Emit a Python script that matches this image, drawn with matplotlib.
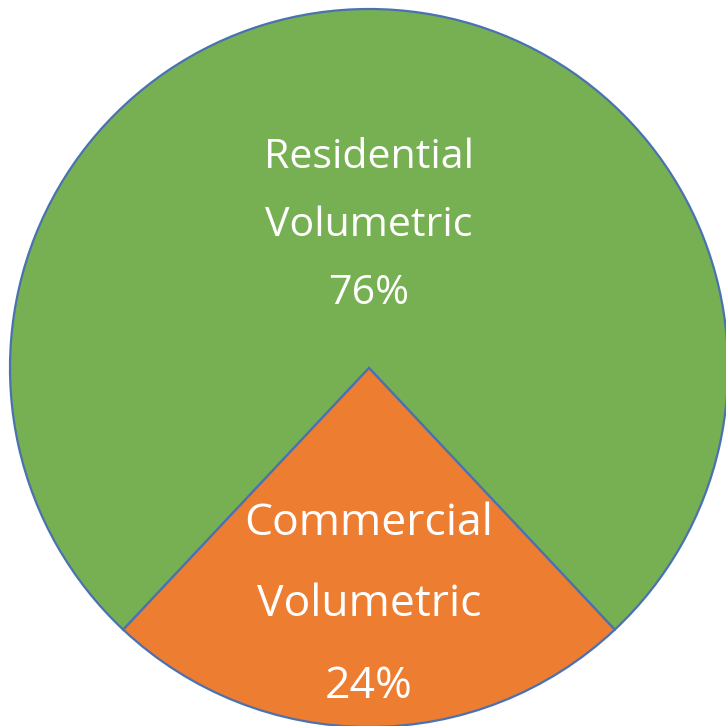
import numpy as np
import matplotlib.pyplot as plt

labels = ['Residential\nVolumetric', 'Commercial\nVolumetric']
shares = [76, 24]
colors = ['#77B052', '#ED7D31']
label_sizes = [29.6, 32]
label_lines = [1.9, 2.1]
label_dist = [0.395, 0.66]

fig = plt.figure(figsize=(7.26, 7.26), dpi=100)
ax = fig.add_axes([0, 0, 1, 1])

# commercial wedge centred straight down, residential fills the rest
start = 270 + 360 * shares[1] / 100 / 2
wedges, _ = ax.pie(shares, colors=colors, startangle=start, counterclock=True,
                   wedgeprops=dict(edgecolor='#4A72B0', linewidth=1.6))

for w, lab, pct, fs, ls, d in zip(wedges, labels, shares, label_sizes,
                                  label_lines, label_dist):
    ang = np.deg2rad((w.theta1 + w.theta2) / 2)
    ax.text(d * np.cos(ang), d * np.sin(ang), f'{lab}\n{pct}%',
            ha='center', va='center', color='white', fontsize=fs,
            family='Open Sans', linespacing=ls)

r = 359.0
ax.set_xlim(-369 / r, (726 - 369) / r)
ax.set_ylim(-(726 - 368) / r, 368 / r)
ax.set_aspect('auto')
ax.axis('off')

fig.savefig('out.png', dpi=100)
